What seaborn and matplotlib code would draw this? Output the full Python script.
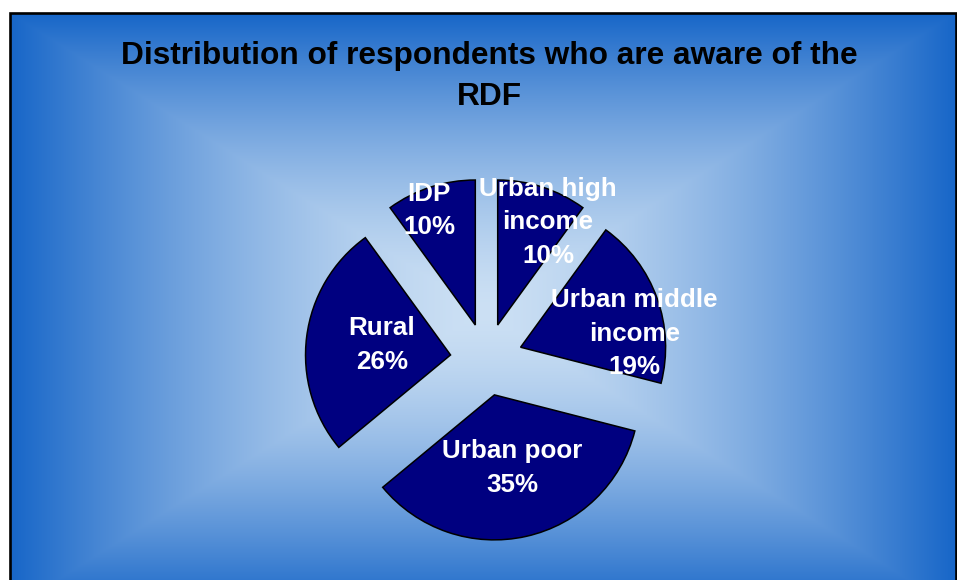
import numpy as np
import matplotlib
matplotlib.use("Agg")
import matplotlib.pyplot as plt
from matplotlib.patches import Rectangle
import seaborn as sns

# Respondents aware of the RDF, by group (percent)
categories = ["Urban high\nincome", "Urban middle\nincome", "Urban poor", "Rural", "IDP"]
shares = [10, 19, 35, 26, 10]
title = "Distribution of respondents who are aware of the\nRDF"

sns.set_theme(style="white")
plt.rcParams["font.family"] = ["Liberation Sans", "DejaVu Sans"]

W, H = 957, 580
fig = plt.figure(figsize=(W / 100, H / 100), dpi=100)
fig.patch.set_facecolor("white")
ax = fig.add_axes([0, 0, 1, 1])

# chart area: rectangular gradient, light centre fading to blue edges
x0, x1 = 10, 956
ytop, ybot = H - 13, H - 610
gx = np.linspace(-1, 1, 800)
gy = np.linspace(-1, 1, 540)
GX, GY = np.meshgrid(gx, gy)
t = np.maximum(np.abs(GX), np.abs(GY)) ** 1.5
edge = np.array([23, 102, 200]) / 255
centre = np.array([204, 224, 244]) / 255
img = centre + (edge - centre) * t[..., None]
ax.imshow(img, extent=(x0, x1, ybot, ytop), origin="upper", aspect="auto",
          zorder=0, interpolation="bilinear")
ax.add_patch(Rectangle((x0, ybot), x1 - x0, ytop - ybot, fill=False,
                       edgecolor="black", linewidth=1.9, zorder=5))

# exploded pie, clockwise from twelve o'clock
R = 145
pie_centre = (486.5, H - 359.5)
wedges, _ = ax.pie(
    shares, startangle=90, counterclock=False, center=pie_centre, radius=R,
    explode=[0.25 * R] * len(shares), colors=["#000080"] * len(shares),
    wedgeprops=dict(edgecolor="black", linewidth=1.1), frame=True,
)

# data labels: radial fraction and clockwise turn relative to slice middle
label_radius = [0.79, 0.79, 0.52, 0.48, 0.85]
label_turn = [8, 13, -1, 1, -4]
for w, name, val, fr, turn in zip(wedges, categories, shares, label_radius, label_turn):
    mid = np.deg2rad((w.theta1 + w.theta2) / 2 - turn)
    cx, cy = w.center
    ax.text(cx + fr * R * np.cos(mid), cy + fr * R * np.sin(mid),
            f"{name}\n{val}%", ha="center", va="center", color="white",
            fontsize=18.7, fontweight="bold", linespacing=1.5, zorder=6)

ax.text(489, H - 41, title, ha="center", va="top", color="black",
        fontsize=22.8, fontweight="bold", linespacing=1.46, zorder=6)

ax.set_xlim(0, W)
ax.set_ylim(0, H)
ax.set_aspect("auto")
ax.axis("off")

fig.savefig("out.png", dpi=100)
